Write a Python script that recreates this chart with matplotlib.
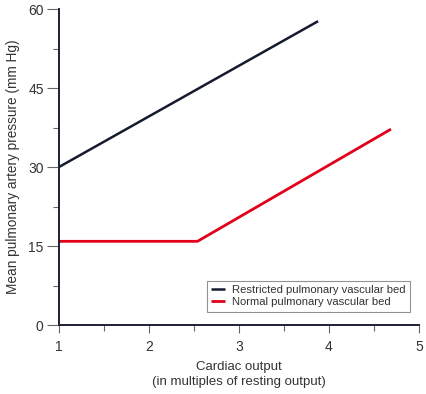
import matplotlib.pyplot as plt
from matplotlib.ticker import MultipleLocator

plt.rcParams['font.family'] = ['Liberation Sans', 'DejaVu Sans']

# Data
restricted_x = [1.0, 3.88]
restricted_y = [30.0, 57.7]
normal_x = [1.0, 2.54, 4.69]
normal_y = [15.9, 15.9, 37.2]

axis_color = '#1c2135'
text_color = '#333333'

fig = plt.figure(figsize=(4.27, 3.94), dpi=100)
ax = fig.add_axes([0.138, 0.175, 0.843, 0.802])

ax.plot(restricted_x, restricted_y, color='#151b2e', linewidth=1.8,
        label='Restricted pulmonary vascular bed', solid_capstyle='butt')
ax.plot(normal_x, normal_y, color='#e2001a', linewidth=2.0,
        label='Normal pulmonary vascular bed', solid_capstyle='butt')

ax.set_xlim(1, 5)
ax.set_ylim(0, 60)
ax.xaxis.set_major_locator(MultipleLocator(1))
ax.xaxis.set_minor_locator(MultipleLocator(0.5))
ax.yaxis.set_major_locator(MultipleLocator(15))
ax.yaxis.set_minor_locator(MultipleLocator(7.5))

for side in ['top', 'right']:
    ax.spines[side].set_visible(False)
for side in ['left', 'bottom']:
    ax.spines[side].set_color(axis_color)
    ax.spines[side].set_linewidth(1.4)

ax.tick_params(axis='y', which='major', length=9, width=0.8, color='#666666',
               labelsize=10, labelcolor=text_color, pad=2)
ax.tick_params(axis='y', which='minor', length=4, width=0.8, color='#666666')
ax.tick_params(axis='x', which='major', length=6, width=0.8, color='#666666',
               labelsize=10, labelcolor=text_color, pad=5)
ax.tick_params(axis='x', which='minor', length=4, width=0.8, color='#666666')

ax.set_ylabel('Mean pulmonary artery pressure (mm Hg)', fontsize=9.8,
              color=text_color, labelpad=6)
ax.set_xlabel('Cardiac output\n(in multiples of resting output)', fontsize=9.5,
              color=text_color, labelpad=5, linespacing=1.25)

leg = ax.legend(loc='lower right', bbox_to_anchor=(0.99, 0.025), fontsize=8.1,
                frameon=True, fancybox=False, handlelength=1.2,
                borderpad=0.4, labelspacing=0.15, handletextpad=0.6)
leg.get_frame().set_edgecolor('#777777')
leg.get_frame().set_linewidth(0.8)
for t in leg.get_texts():
    t.set_color(text_color)

fig.savefig('out.png', dpi=100)
